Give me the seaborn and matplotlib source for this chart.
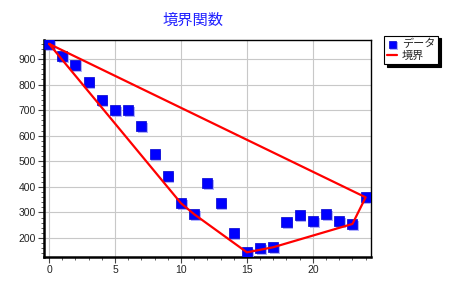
import matplotlib
matplotlib.use("Agg")
import matplotlib.pyplot as plt
import matplotlib.patheffects as pe
from matplotlib.ticker import MultipleLocator
import seaborn as sns
import pandas as pd

x_vals = list(range(25))
y_vals = [959, 912, 877, 810, 740, 700, 700, 638, 528, 443, 336, 293, 414, 336, 218,
          144, 160, 164, 261, 289, 265, 293, 265, 255, 359]
boundary_idx = [0, 10, 11, 15, 17, 23, 24, 0]
title = "境界関数"
legend_labels = ["データ", "境界"]

sns.set_theme(style="whitegrid")
plt.rcParams['font.family'] = ['Liberation Sans', 'Noto Sans CJK JP', 'DejaVu Sans']

df = pd.DataFrame({"x": x_vals, "y": y_vals})
bdf = pd.DataFrame({"x": [x_vals[i] for i in boundary_idx], "y": [y_vals[i] for i in boundary_idx]})

fig = plt.figure(figsize=(4.54, 2.90), dpi=100)
ax = fig.add_axes([0.097, 0.114, 0.72, 0.748])

sc = ax.scatter(df["x"], df["y"], marker="s", s=52, color="#0000ff", edgecolor="#0000cc",
                linewidth=0.5, zorder=3, label=legend_labels[0])
sc.set_path_effects([pe.SimplePatchShadow(offset=(1.2, -1.2), shadow_rgbFace="#9999ff", alpha=0.8), pe.Normal()])
sns.lineplot(data=bdf, x="x", y="y", sort=False, color="#ff0000", linewidth=1.6, ax=ax,
             zorder=4, label=legend_labels[1], estimator=None)

ax.set_xlim(-0.38, 24.4)
ax.set_ylim(126, 974)
ax.set_xlabel("")
ax.set_ylabel("")
ax.xaxis.set_major_locator(MultipleLocator(5))
ax.xaxis.set_minor_locator(MultipleLocator(1))
ax.yaxis.set_major_locator(MultipleLocator(100))
ax.yaxis.set_minor_locator(MultipleLocator(20))
ax.grid(True, which="major", color="#c8c8c8", linewidth=0.8)
ax.grid(False, which="minor")
ax.tick_params(axis="both", which="major", direction="out", length=4, width=0.8, color="#444444",
               labelsize=7.5, labelcolor="#222222", pad=2, bottom=True, left=True)
ax.tick_params(axis="both", which="minor", direction="out", length=2, width=0.6, color="#444444",
               bottom=True, left=True)
for side in ["left", "bottom"]:
    ax.spines[side].set_linewidth(1.8)
    ax.spines[side].set_color("black")
for side in ["top", "right"]:
    ax.spines[side].set_linewidth(1.0)
    ax.spines[side].set_color("black")

fig.text(0.425, 0.93, title, color="#2020ff", fontsize=11, ha="center", va="center",
         family=['Noto Sans CJK JP', 'DejaVu Sans'])

leg = ax.legend(loc="upper left", bbox_to_anchor=(1.04, 1.02), frameon=True, fancybox=False,
                shadow={"color": "black", "alpha": 1.0, "ox": 2, "oy": -2}, handlelength=0.9, markerscale=0.75,
                handletextpad=0.4, borderpad=0.3, labelspacing=0.1, borderaxespad=0,
                prop={"family": ['Noto Sans CJK JP', 'DejaVu Sans'], "size": 8})
leg.get_frame().set_edgecolor("black")
leg.get_frame().set_linewidth(0.8)
leg.get_frame().set_facecolor("white")

fig.savefig("out.png", dpi=100)
